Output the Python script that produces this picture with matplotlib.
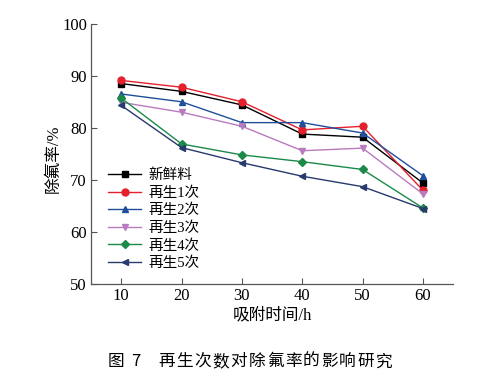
import matplotlib
matplotlib.use('Agg')
import matplotlib.pyplot as plt

plt.rcParams['font.family'] = ['Liberation Serif', 'Noto Sans CJK SC']

time_h = [10, 20, 30, 40, 50, 60]
fresh = [88.5, 87.0, 84.4, 78.8, 78.2, 69.4]
regen1 = [89.1, 87.8, 85.0, 79.6, 80.3, 68.0]
regen2 = [86.5, 85.0, 81.0, 81.0, 79.0, 70.8]
regen3 = [84.9, 83.0, 80.3, 75.6, 76.1, 67.3]
regen4 = [85.7, 76.9, 74.8, 73.5, 72.0, 64.6]
regen5 = [84.3, 76.2, 73.3, 70.7, 68.7, 64.5]

labels = ['新鲜料', '再生1次', '再生2次', '再生3次', '再生4次', '再生5次']
series = [fresh, regen1, regen2, regen3, regen4, regen5]
colors = ['#000000', '#e3202b', '#1f4f9a', '#b87bbf', '#1b8a48', '#283a6e']
markers = ['s', 'o', '^', 'v', 'D', '<']
msizes = [4.5, 5, 5, 5, 4, 4.8]

fig = plt.figure(figsize=(4.82, 3.92), dpi=100)
ax = fig.add_axes([0.189, 0.2755, 0.751, 0.664])

for y, lab, c, m, ms in zip(series, labels, colors, markers, msizes):
	ax.plot(time_h, y, color=c, marker=m, markersize=ms, linewidth=1.0, label=lab)

ax.set_xlim(5, 65)
ax.set_ylim(50, 100)
ax.set_xticks(time_h)
ax.set_yticks([50, 60, 70, 80, 90, 100])
ax.tick_params(direction='in', length=4, labelsize=12, color='#555555', width=0.8, pad=3)
ax.spines['top'].set_visible(False)
ax.spines['right'].set_visible(False)
for s in ['left', 'bottom']:
	ax.spines[s].set_color('#555555')
	ax.spines[s].set_linewidth(0.9)

ax.set_xlabel('吸附时间/h', fontsize=12, labelpad=2)
ax.set_ylabel('除氟率/%', fontsize=12)
ax.yaxis.set_label_coords(-0.08, 0.48)

ax.legend(loc='upper left', bbox_to_anchor=(0.03, 0.465), frameon=False, fontsize=10.5,
	handlelength=2.3, handletextpad=0.5, labelspacing=0.28, borderaxespad=0)

# caption, drawn character by character to keep its wide spacing
fig.text(108 / 482, 0.077, '图', ha='left', va='center', fontsize=12,
	family=['Noto Sans CJK SC'])
fig.text(131 / 482, 0.077, '7', ha='left', va='center', fontsize=12,
	family=['Noto Sans CJK SC'])
caption = '再生次数对除氟率的影响研究'
for i, ch in enumerate(caption):
	fig.text((158 + i * 18.1) / 482, 0.077, ch, ha='left', va='center', fontsize=12,
		family=['Noto Sans CJK SC'])

plt.savefig('out.png', dpi=100)
